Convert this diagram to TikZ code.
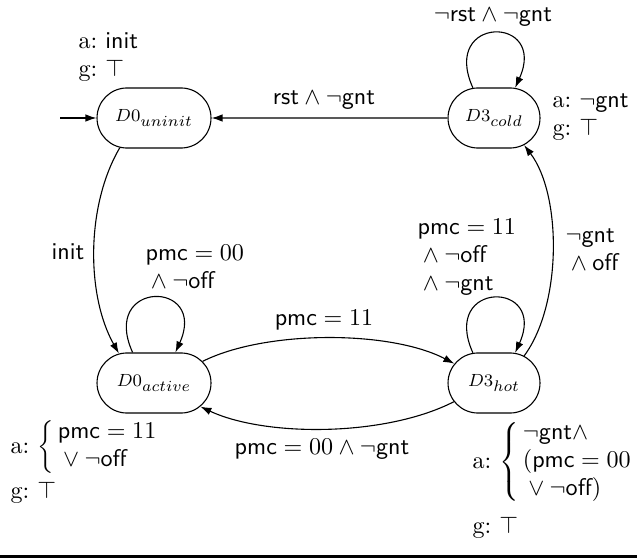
\documentclass[tikz,border=0pt]{standalone}
\usetikzlibrary{shapes.misc,arrows.meta,calc}
\newcommand{\tsv}[1]{\textsf{#1}}
\newcommand{\stname}[2]{$#1_{\mbox{\fontsize{7}{8}\selectfont$#2$}}$}
\begin{document}
\begin{tikzpicture}[x=0.4545pt,y=-0.4545pt,line width=0.5pt,
  >={Latex[length=5pt,width=3.4pt]},
  st/.style={rounded rectangle, draw, minimum height=27.3pt, inner sep=0pt, font=\fontsize{8}{9.5}\selectfont},
  widebox/.style={minimum width=51.8pt},
  narrowbox/.style={minimum width=41.8pt},
  lbl/.style={inner sep=0pt, font=\fontsize{10.95}{12.7}\selectfont, align=left},
  blbl/.style={inner sep=0pt, font=\fontsize{10.95}{12.7}\selectfont}]
\useasboundingbox (0,0) rectangle (637,558);

\node[st,widebox] (u) at (154,118) {\stname{D0}{uninit}};
\node[st,narrowbox] (c) at (494,118) {\stname{D3}{cold}};
\node[st,widebox] (a) at (154,383) {\stname{D0}{active}};
\node[st,narrowbox] (h) at (494,383) {\stname{D3}{hot}};

\coordinate (init) at (60,118);
\draw[->] (init) -- (u);
\draw[->] (c) -- (u);
\draw[->] (c.125) .. controls +(-33,-73) and +(33,-73) .. (c.55);
\draw[->] (a.125) .. controls +(-33,-73) and +(33,-73) .. (a.55);
\draw[->] (h.125) .. controls +(-33,-73) and +(33,-73) .. (h.55);
\draw[->] (u.221) .. controls (86,205) and (86,295) .. (a.140);
\draw[->] (h.42) .. controls (562,305) and (562,195) .. (c.318);
\draw[->] (a.24) .. controls (265,330) and (390,330) .. (h.154);
\draw[->] (h.205) .. controls (385,437) and (265,437) .. (a.333);

\coordinate (rl) at (0,556.5);
\coordinate (rr) at (637,556.5);
\draw[line width=1.4pt] (rl) -- (rr);

\node[lbl,anchor=west] (t1) at (78,57) {a:~\tsv{init}\\ g:~$\top$};
\node[lbl] (t2) at (493,17) {$\neg\tsv{rst}\wedge\neg\tsv{gnt}$};
\node[lbl] (t3) at (324,100) {$\tsv{rst}\wedge\neg\tsv{gnt}$};
\node[lbl,anchor=west] (t4) at (552,117) {a:~$\neg\tsv{gnt}$\\ g:~$\top$};
\node[lbl] (t5) at (68,252) {\tsv{init}};
\node[lbl,anchor=west] (t6) at (145,267) {$\tsv{pmc}=00$\\ ${}\wedge\neg\tsv{off}$};
\node[lbl] (t7) at (324,320) {$\tsv{pmc}=11$};
\node[lbl,anchor=west] (t8) at (417,257) {$\tsv{pmc}=11$\\ ${}\wedge\neg\tsv{off}$\\ ${}\wedge\neg\tsv{gnt}$};
\node[lbl,anchor=west] (t9) at (565,250) {$\neg\tsv{gnt}$\\ ${}\wedge\tsv{off}$};
\node[lbl] (t10) at (322,449) {$\tsv{pmc}=00\wedge\neg\tsv{gnt}$};
\node[blbl,anchor=west] (t11) at (10,447) {a:~$\left\{\begin{array}{@{\,}l@{}}\tsv{pmc}=11\\ {}\vee\neg\tsv{off}\end{array}\right.$};
\node[lbl,anchor=west] (t12) at (10,493) {g:~$\top$};
\node[blbl,anchor=west] (t13) at (472,462) {a:~$\left\{\begin{array}{@{\,}l@{}}\neg\tsv{gnt}\wedge\\ (\tsv{pmc}=00\\ {}\vee\neg\tsv{off})\end{array}\right.$};
\node[lbl,anchor=west] (t14) at (472,528) {g:~$\top$};
\end{tikzpicture}
\end{document}
